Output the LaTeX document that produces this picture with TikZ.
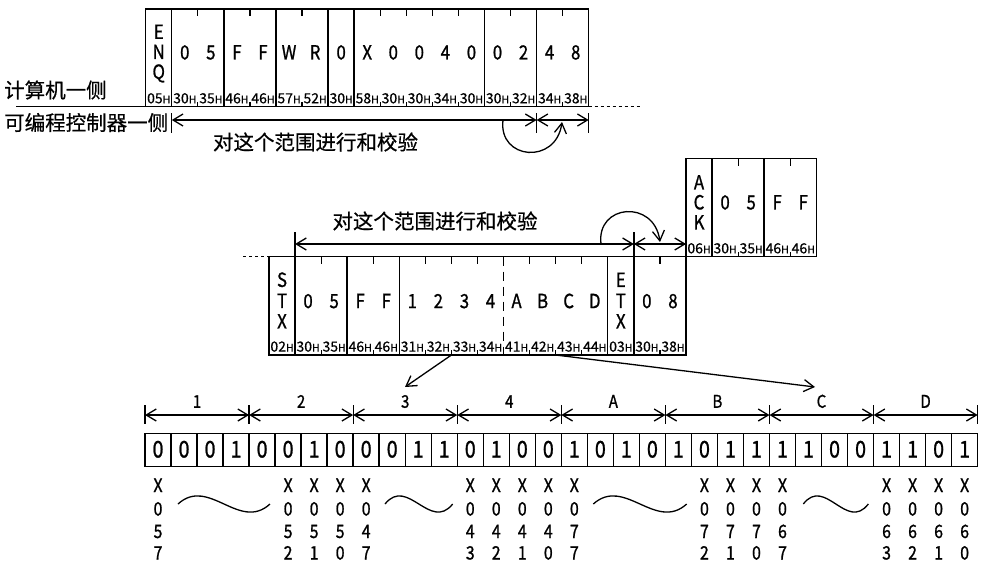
\documentclass[tikz,border=0pt]{standalone}
\usepackage{fontspec}
\setmainfont{Noto Sans CJK SC}[FakeBold=0.6]
\newfontfamily\cond{Noto Sans CJK SC}[FakeStretch=0.86,FakeBold=1.0]
\usetikzlibrary{arrows.meta}
\newcommand\hexH{{\fontsize{10.5}{10.5}\selectfont H}}
\begin{document}
\begin{tikzpicture}[x=1pt,y=-1pt,
  >={Straight Barb[length=10pt,width=12pt]},
  frm/.style={line width=1.4pt},
  tk/.style={line width=1.2pt},
  dim/.style={line width=1.3pt},
  ch/.style={font=\cond\fontsize{19.5}{19.5}\selectfont,inner sep=0pt,text height=12.8pt,text depth=0pt},
  hx/.style={font=\fontsize{14}{14}\selectfont,inner sep=0pt,anchor=base},
  cn/.style={font=\fontsize{20.5}{20.5}\selectfont,inner sep=0pt},
  bit/.style={draw,line width=1.4pt,minimum width=26.02pt,minimum height=33.4pt,inner sep=0pt,
     font=\cond\fontsize{23}{23}\selectfont,text height=15pt,text depth=0pt},
  lb/.style={font=\cond\fontsize{18.5}{18.5}\selectfont,inner sep=0pt,text height=12pt,text depth=0pt},
  seg/.style={font=\cond\fontsize{17.5}{17.5}\selectfont,inner sep=0pt,text height=11.5pt,text depth=0pt},
  wave/.style={line width=1.3pt},
  dots/.style={line width=1.2pt,dash pattern=on 3pt off 3pt}
]
\useasboundingbox (0,0) rectangle (981,565);

% ---------- side labels ----------
\node[cn,anchor=west] (pc) at (4,90) {计算机一侧};
\node[cn,anchor=west] (plc) at (4,122.5) {可编程控制器一侧};

% ---------- top frame (computer -> PLC) ----------
\draw[frm] (145.7,9) rectangle (588.7,106.7);
\draw[frm] (16,106.7) -- (145.7,106.7);
\draw[dots] (588.7,106.7) -- (642,106.7);
\foreach \s in {1,3,5,7,8,13,15}
  \draw[frm] ({145.7+\s*26.06},9) -- ({145.7+\s*26.06},106.7);
\foreach \s in {2,4,6,9,10,11,12,14,16} {
  \draw[tk] ({145.7+\s*26.06},9) -- ++(0,7);
  \draw[tk] ({145.7+\s*26.06},106.7) -- ++(0,-5);
}
\node[ch] (tE) at ({145.7+0.5*26.06},32.5) {E};
\node[ch] (tN) at ({145.7+0.5*26.06},52.5) {N};
\node[ch] (tQ) at ({145.7+0.5*26.06},72.5) {Q};
\foreach \c [count=\i] in {0,5,F,F,W,R,0,X,0,0,4,0,0,2,4,8}
  \node[ch] (tc\i) at ({145.7+(\i+0.5)*26.06},53) {\c};
\foreach \h [count=\i from 0] in {05,30,35,46,46,57,52,30,58,30,30,34,30,30,32,34,38}
  \node[hx] (th\i) at ({145.7+(\i+0.5)*26.06},103.3) {\h\hexH};

% top dimension lines
\coordinate (ta) at (171.76,120);
\coordinate (tb) at (536.6,120);
\coordinate (tc) at (588.7,120);
\draw[dim,<->] (ta) -- (tb);
\draw[dim,<->] (tb) -- (tc);
\foreach \p in {ta,tb,tc} \draw[tk] (\p) ++(0,-7) -- ++(0,20);
\node[cn] (tsum) at (315.5,142) {对这个范围进行和校验};
\coordinate (tcs) at (503,120);
\coordinate (tce) at (562,122);
\draw[dim,->] (tcs) .. controls (498,160) and (556,165) .. (tce);

% ---------- ACK frame ----------
\draw[frm] (686,158.7) rectangle (816.3,256.7);
\foreach \s in {1,3}
  \draw[frm] ({686+\s*26.06},158.7) -- ({686+\s*26.06},256.7);
\foreach \s in {2,4} {
  \draw[tk] ({686+\s*26.06},158.7) -- ++(0,7);
  \draw[tk] ({686+\s*26.06},256.7) -- ++(0,-5);
}
\node[ch] (aA) at ({686+0.5*26.06},183) {A};
\node[ch] (aC) at ({686+0.5*26.06},203) {C};
\node[ch] (aK) at ({686+0.5*26.06},223) {K};
\foreach \c [count=\i] in {0,5,F,F}
  \node[ch] (ac\i) at ({686+(\i+0.5)*26.06},203) {\c};
\foreach \h [count=\i from 0] in {06,30,35,46,46}
  \node[hx] (ah\i) at ({686+(\i+0.5)*26.06},253.3) {\h\hexH};

% ---------- middle frame (PLC -> computer) ----------
\draw[frm] (269,256.7) rectangle (686,355);
\draw[dots] (243,256.7) -- (269,256.7);
\foreach \s in {1,14}
  \draw[frm] ({269+\s*26.06},232) -- ({269+\s*26.06},355);
\foreach \s in {3,5,13}
  \draw[frm] ({269+\s*26.06},256.7) -- ({269+\s*26.06},355);
\draw[tk,dash pattern=on 9pt off 6pt] ({269+9*26.06},256.7) -- ({269+9*26.06},355);
\foreach \s in {2,4,6,7,8,10,11,12,15} {
  \draw[tk] ({269+\s*26.06},256.7) -- ++(0,7);
  \draw[tk] ({269+\s*26.06},355) -- ++(0,-5);
}
\node[ch] (mS) at ({269+0.5*26.06},280.5) {S};
\node[ch] (mT) at ({269+0.5*26.06},301.5) {T};
\node[ch] (mX) at ({269+0.5*26.06},322) {X};
\node[ch] (eE) at ({269+13.5*26.06},280.5) {E};
\node[ch] (eT) at ({269+13.5*26.06},301.5) {T};
\node[ch] (eX) at ({269+13.5*26.06},322) {X};
\foreach \c [count=\i] in {0,5,F,F,1,2,3,4,A,B,C,D}
  \node[ch] (mc\i) at ({269+(\i+0.5)*26.06},301.7) {\c};
\node[ch] (mc14) at ({269+14.5*26.06},301.7) {0};
\node[ch] (mc15) at ({269+15.5*26.06},301.7) {8};
\foreach \h [count=\i from 0] in {02,30,35,46,46,31,32,33,34,41,42,43,44,03,30,38}
  \node[hx] (mh\i) at ({269+(\i+0.5)*26.06},351.6) {\h\hexH};

% middle dimension lines
\coordinate (ma) at ({269+26.06},244);
\coordinate (mb) at ({269+14*26.06},244);
\coordinate (mcx) at (686,244);
\draw[dim,<->] (ma) -- (mb);
\draw[dim,<->] (mb) -- (mcx);
\node[cn] (msum) at (435,221) {对这个范围进行和校验};
\coordinate (mcs) at (601,244);
\coordinate (mce) at (660,242);
\draw[dim,->] (mcs) .. controls (596,204) and (654,199) .. (mce);

% arrows to bit row
\coordinate (m7) at ({269+7*26.06},355);
\coordinate (m11) at ({269+11*26.06},355);
\coordinate (t3) at (405,387);
\coordinate (tC) at (815,387);
\draw[dim,->] (m7) -- (t3);
\draw[dim,->] (m11) -- (tC);

% ---------- bit row ----------
\foreach \b [count=\i from 0] in {0,0,0,1,0,0,1,0,0,0,1,1,0,1,0,0,1,0,1,0,1,0,1,1,1,1,0,0,1,1,0,1}
  \node[bit] (b\i) at ({145+(\i+0.5)*26.02},450) {\b};

\foreach \k in {0,...,8} \coordinate (d\k) at ({145+\k*104.08},415);
\foreach \k [remember=\k as \lastk (initially 0)] in {1,...,8}
  \draw[dim,<->] (d\lastk) -- (d\k);
\foreach \k in {0,...,8} \draw[tk] (d\k) ++(0,-10) -- ++(0,19);
\foreach \t [count=\k from 0] in {1,2,3,4,A,B,C,D}
  \node[seg] (s\k) at ({145+(\k+0.5)*104.08},402) {\t};

% input labels
\foreach \c/\p/\q in {0/5/7,5/5/2,6/5/1,7/5/0,8/4/7,12/4/3,13/4/2,14/4/1,15/4/0,
                      16/7/7,21/7/2,22/7/1,23/7/0,24/6/7,28/6/3,29/6/2,30/6/1,31/6/0} {
  \node[lb] (xa\c) at ({145+(\c+0.5)*26.02},486) {X};
  \node[lb] (xb\c) at ({145+(\c+0.5)*26.02},509.5) {0};
  \node[lb] (xc\c) at ({145+(\c+0.5)*26.02},532) {\p};
  \node[lb] (xd\c) at ({145+(\c+0.5)*26.02},553.5) {\q};
}
\draw[wave] (178,504) .. controls (208.7,476) and (239.3,532) .. (270,504);
\draw[wave] (385,504) .. controls (407.6,476) and (430.1,532) .. (452.7,504);
\draw[wave] (593.3,504) .. controls (624.4,476) and (655.6,532) .. (686.7,504);
\draw[wave] (803.3,504) .. controls (825,476) and (846.7,532) .. (868.3,504);
\end{tikzpicture}
\end{document}
